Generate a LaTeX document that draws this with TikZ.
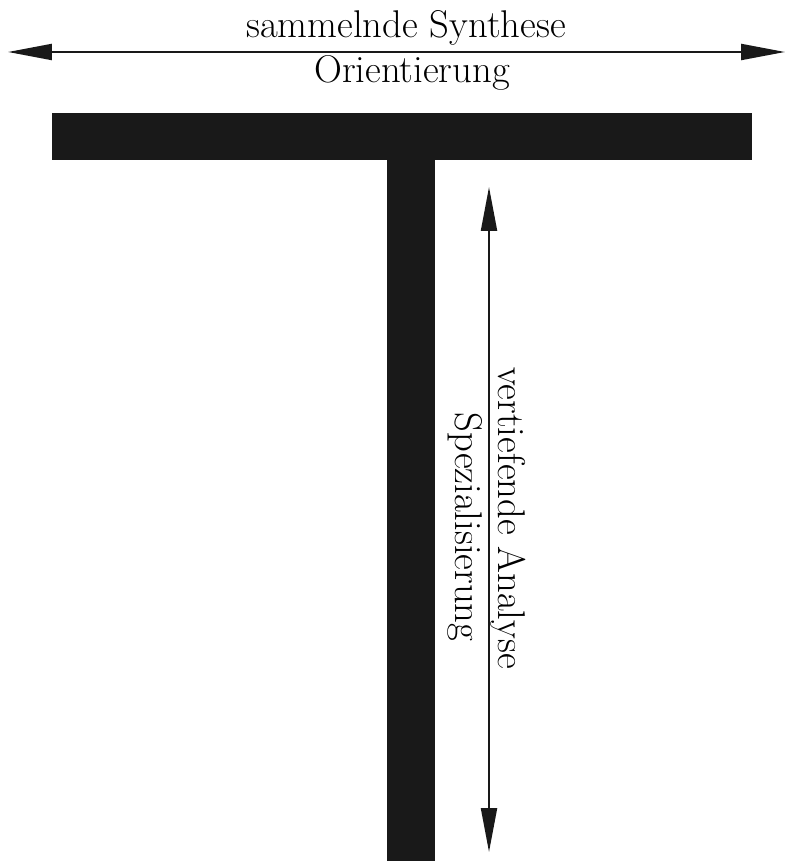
\documentclass[tikz,border=0pt]{standalone}
\usepackage{tikz}
\usetikzlibrary{arrows.meta}

\begin{document}
\begin{tikzpicture}[x=0.02cm,y=-0.02cm,line width=1.2pt,
    beschriftung/.style={inner sep=0pt,font=\fontsize{22}{26}\selectfont},
    pfeil/.style={{Triangle[length=0.88cm,width=0.32cm]}-{Triangle[length=0.88cm,width=0.32cm]}}]
    \useasboundingbox (0,0) rectangle (787,861);
    % das T
    \fill[black!90] (52,113) rectangle (752,160);
    \fill[black!90] (387,160) rectangle (435,861);
    % Breite
    \coordinate (links) at (8,52);
    \coordinate (rechts) at (785,52);
    \draw[pfeil, black!90] (links) -- (rechts);
    \node[beschriftung, anchor=base] (synthese) at (406,38) {sammelnde Synthese};
    \node[beschriftung, anchor=base] (orientierung) at (412,83) {Orientierung};
    % Tiefe
    \coordinate (oben) at (489,187);
    \coordinate (unten) at (489,852);
    \draw[pfeil, black!90] (oben) -- (unten);
    \node[beschriftung, rotate=-90, anchor=base] (analyse) at (498,518) {vertiefende Analyse};
    \node[beschriftung, rotate=-90, anchor=base] (spezial) at (455,527) {Spezialisierung};
\end{tikzpicture}
\end{document}
